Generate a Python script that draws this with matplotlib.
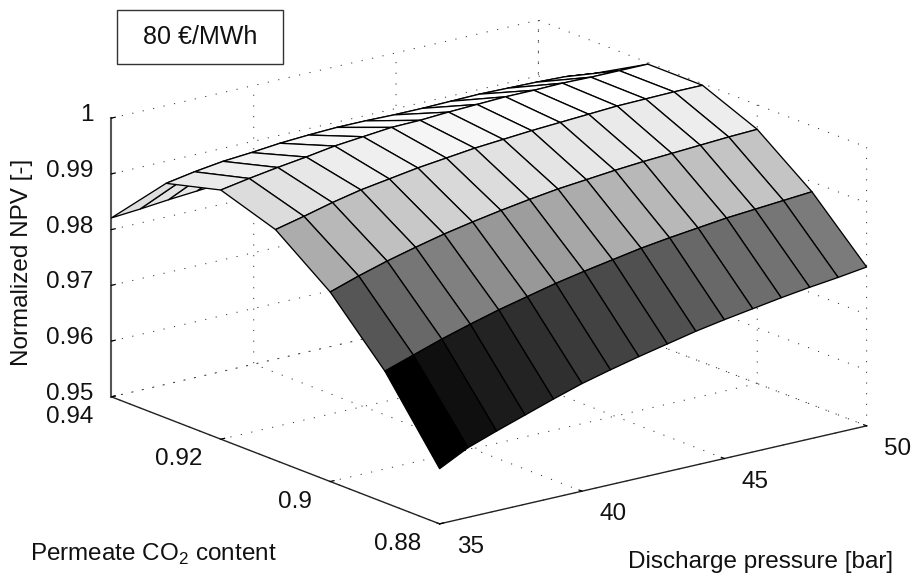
import matplotlib
matplotlib.use("Agg")
import matplotlib.pyplot as plt
import numpy as np
from matplotlib.patches import Rectangle
from mpl_toolkits.mplot3d import proj3d

plt.rcParams['font.family'] = ['Liberation Sans', 'DejaVu Sans']
plt.rcParams['mathtext.fontset'] = 'custom'
plt.rcParams['mathtext.rm'] = 'Liberation Sans'
plt.rcParams['grid.color'] = '#333333'
plt.rcParams['grid.linewidth'] = 0.7
plt.rcParams['grid.linestyle'] = (0, (1.2, 9.8))

pressure = [35, 36, 37, 38, 39, 40, 41, 42, 43, 44, 45, 46, 47, 48, 49, 50]
co2 = [0.88, 0.89, 0.90, 0.91, 0.92, 0.93, 0.94]

# one list per CO2 content, left to right along pressure
npv_088 = [.9599, .9625, .9643, .9660, .9677, .9693, .9706, .9718, .9729, .9740, .9749, .9757, .9765, .9772, .9778, .9785]
npv_089 = [.9736, .9753, .9770, .9785, .9799, .9811, .9823, .9833, .9842, .9851, .9858, .9864, .9870, .9874, .9878, .9882]
npv_090 = [.9840, .9857, .9872, .9885, .9897, .9907, .9916, .9924, .9931, .9936, .9941, .9945, .9948, .9951, .9954, .9956]
npv_091 = [.9914, .9926, .9939, .9950, .9958, .9966, .9972, .9978, .9982, .9986, .9989, .9992, .9995, .9996, .9997, .9997]
npv_092 = [.9947, .9956, .9964, .9971, .9979, .9984, .9989, .9990, .9993, .9995, .9997, .9997, .9998, .9997, .9997, .9997]
npv_093 = [.9921, .9930, .9937, .9941, .9946, .9949, .9951, .9951, .9950, .9950, .9951, .9952, .9951, .9950, .9948, .9942]
npv_094 = [.9821, .9825, .9830, .9834, .9838, .9841, .9843, .9845, .9846, .9847, .9848, .9848, .9847, .9846, .9845, .9843]

x_ticks = [35, 40, 45, 50]
x_ticklabels = ['35', '40', '45', '50']
y_ticks = [0.88, 0.90, 0.92, 0.94]
y_ticklabels = ['0.88', '0.9', '0.92', '0.94']
z_ticks = [0.95, 0.96, 0.97, 0.98, 0.99, 1.0]
z_ticklabels = ['0.95', '0.96', '0.97', '0.98', '0.99', '1']

# grey tone curve (level in, grey out)
tone_in = [0, .30, .385, .46, .60, .79, 1]
tone_out = [0, .29, .415, .50, .67, .86, 1]

W, H = 913, 578
fig = plt.figure(figsize=(W / 100, H / 100), dpi=100, facecolor='white')

# square axes placed so the box lands on the same pixels as the reference
S = 600
ax = fig.add_axes([180.9 / W, -2.1 / H, S / W, S / H], projection='3d', proj_type='ortho')
ax.patch.set_visible(False)
ax.view_init(elev=17.34, azim=-127.6)
ax.set_box_aspect((539, 538, 292), zoom=1.3195)

X, Y = np.meshgrid(pressure, co2)
Z = np.array([npv_088, npv_089, npv_090, npv_091, npv_092, npv_093, npv_094])

# flat colour from the first corner of each cell, as surf does
levels = np.floor((Z - Z.min()) / (Z.max() - Z.min()) * 63.999) / 63
colors = plt.cm.gray(np.interp(levels, tone_in, tone_out))
surf = ax.plot_surface(X, Y, Z, facecolors=colors, rstride=1, cstride=1, shade=False,
                       edgecolor='black', linewidth=0.95, antialiased=True)
surf.set_clip_on(False)

ax.set_xlim(35, 50, view_margin=0)
ax.set_ylim(0.88, 0.94, view_margin=0)
ax.set_zlim(0.95, 1.0, view_margin=0)

ax.set_xticks(x_ticks)
ax.set_yticks(y_ticks)
ax.set_zticks(z_ticks)
ax.set_xticklabels([])
ax.set_yticklabels([])
ax.set_zticklabels([])

for axis in (ax.xaxis, ax.yaxis, ax.zaxis):
    axis.set_pane_color((1, 1, 1, 0))
    axis.pane.set_edgecolor('none')
    axis.line.set_color('#222222')
    axis.line.set_linewidth(1.0)
    axis._axinfo['tick']['inward_factor'] = 0.0
    axis._axinfo['tick']['outward_factor'] = 0.11
    axis._axinfo['tick']['linewidth'] = {True: 0.9, False: 0.5}
    axis._axinfo['tick']['color'] = '#222222'
ax.zaxis.line.set_color('#555555')
ax.zaxis.line.set_linewidth(1.5)


# tick labels hang off the projected tick positions
def tick_label(x, y, z, text, dx, dy, ha):
    px, py, _ = proj3d.proj_transform(x, y, z, ax.get_proj())
    ax.annotate(text, (px, py), xytext=(dx * 0.72, dy * 0.72), textcoords='offset points',
                ha=ha, va='center', fontsize=17.5, color='#111111', annotation_clip=False)


for t, lab in zip(x_ticks, x_ticklabels):
    tick_label(t, 0.88, 0.95, lab, 31, -23, 'center')
for t, lab in zip(y_ticks, y_ticklabels):
    tick_label(35, t, 0.95, lab, -18, -20, 'right')
for t, lab in zip(z_ticks, z_ticklabels):
    tick_label(35, 0.94, t, lab, -18, 3, 'right')

# axis titles
fig.text(628 / W, 1 - 562 / H, 'Discharge pressure [bar]', fontsize=17.5, va='center', color='#111111')
fig.text(30 / W, 1 - 554 / H, 'Permeate CO$_2$ content', fontsize=17.5, va='center', color='#111111')
fig.text(22 / W, 1 - 262 / H, 'Normalized NPV [-]', fontsize=17.5, rotation=90, va='center', ha='center', color='#111111')

# price box
fig.add_artist(Rectangle((117 / W, 1 - 64 / H), 166 / W, 54 / H, transform=fig.transFigure,
                         facecolor='white', edgecolor='#333333', linewidth=1.0))
fig.text(200 / W, 1 - 37 / H, '80 €/MWh', fontsize=18, ha='center', va='center', color='#111111')

fig.savefig('out.png', dpi=100)
